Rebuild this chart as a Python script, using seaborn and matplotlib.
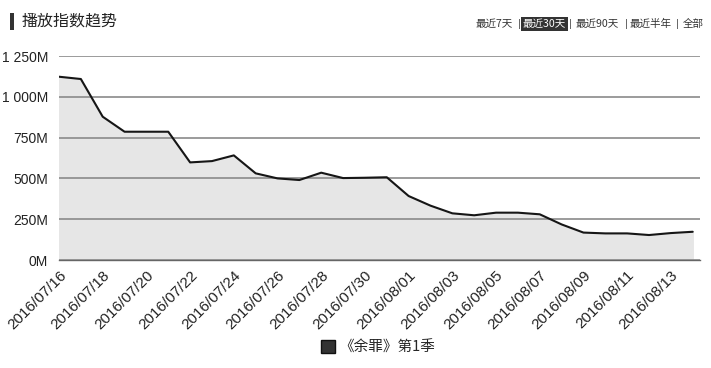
import pandas as pd
import numpy as np
import matplotlib.pyplot as plt
import seaborn as sns
from matplotlib.patches import Patch, Rectangle
from matplotlib.ticker import FuncFormatter

# data (play index, in millions)
dates = pd.date_range("2016-07-16", "2016-08-14", freq="D")
play_index = [1123, 1109, 878, 786, 786, 786, 598, 606, 641, 531,
              500, 490, 535, 502, 504, 507, 392, 333, 286, 274,
              290, 290, 280, 218, 168, 163, 163, 153, 165, 173]
series_name = "《余罪》第1季"
y_ticks = [0, 250, 500, 750, 1000, 1250]
menu_items = ["最近7天", "最近30天", "最近90天", "最近半年", "全部"]

df = pd.DataFrame({"date": dates, "value": play_index})

sns.set_style("white")
plt.rcParams["font.family"] = ["Liberation Sans", "Noto Sans CJK SC", "DejaVu Sans"]
cjk = ["Noto Sans CJK SC", "DejaVu Sans"]

W, H = 711, 368
fig = plt.figure(figsize=(W / 100, H / 100), dpi=100)
ax = fig.add_axes([59 / W, 1 - 260 / H, 641 / W, 204 / H])

ax.fill_between(df["date"], df["value"], color="#e6e6e6", zorder=1)
sns.lineplot(data=df, x="date", y="value", ax=ax, color="#161616", linewidth=1.5, zorder=3)

ax.set_ylim(0, 1250)
ax.set_xlim(dates[0], dates[-1] + pd.Timedelta(hours=8))
ax.set_yticks(y_ticks)
ax.yaxis.set_major_formatter(FuncFormatter(lambda v, p: f"{v:,.0f}M".replace(",", " ")))
ax.grid(axis="y", color="#8a8a8a", linewidth=1.2, zorder=2)
ax.set_axisbelow(False)

tick_dates = dates[::2]
ax.set_xticks(tick_dates)
ax.set_xticklabels([d.strftime("%Y/%m/%d") for d in tick_dates], rotation=45,
                   ha="right", rotation_mode="anchor", fontsize=11)
ax.tick_params(axis="x", direction="out", length=5, width=1, color="#666666",
               pad=1, labelcolor="#222222")
ax.tick_params(axis="y", length=0, labelsize=10, labelcolor="#222222", pad=8)
ax.set_xlabel("")
ax.set_ylabel("")
for s in ["top", "right", "left"]:
    ax.spines[s].set_visible(False)
ax.spines["bottom"].set_color("#666666")
ax.spines["bottom"].set_linewidth(1)

# header
fig.patches.append(Rectangle((10 / W, 1 - 30 / H), 3.5 / W, 17 / H, transform=fig.transFigure,
                             facecolor="#333333", edgecolor="none"))
fig.text(22 / W, 1 - 21 / H, "播放指数趋势", fontsize=11.5, color="#222222", va="center", family=cjk)

menu_x = [476, 523, 576, 630, 683]
sep_x = [519, 570, 626, 677]
menu_y = 1 - 24 / H
for i, item in enumerate(menu_items):
    if i == 1:
        fig.text(menu_x[i] / W, menu_y, item, fontsize=7.6, color="white", va="center", family=cjk,
                 bbox=dict(boxstyle="square,pad=0.2", fc="#333333", ec="none"))
    else:
        fig.text(menu_x[i] / W, menu_y, item, fontsize=7.6, color="#333333", va="center", family=cjk)
for sx in sep_x:
    fig.text(sx / W, menu_y, "|", fontsize=8, color="#555555", va="center", ha="center")

handle = Patch(facecolor="#333333", edgecolor="#111111", label=series_name)
fig.legend(handles=[handle], loc="center", bbox_to_anchor=(378 / W, 1 - 347 / H), frameon=False,
           prop={"family": cjk, "size": 10.5}, handlelength=1.0, handleheight=1.0,
           handletextpad=0.3)

fig.savefig("out.png", dpi=100)
